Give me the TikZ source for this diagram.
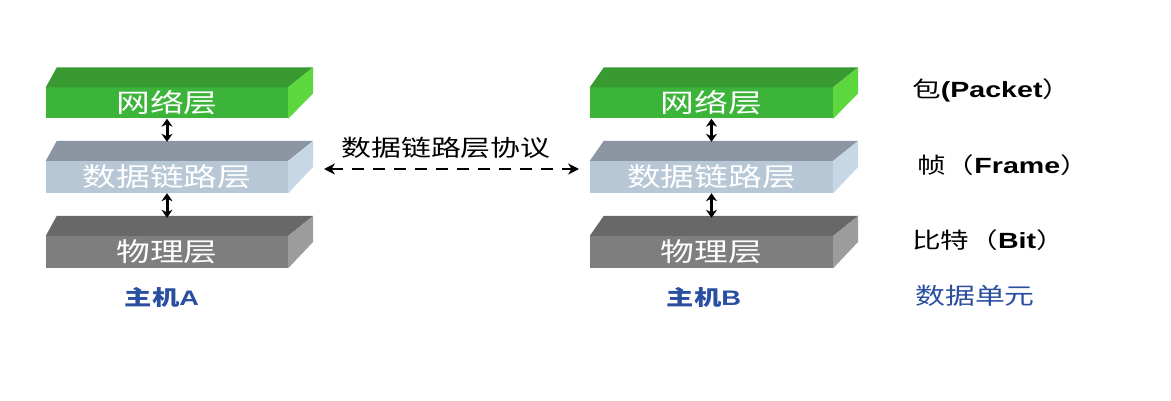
\documentclass[tikz,border=0pt]{standalone}
\usepackage{fontspec}
\usetikzlibrary{arrows.meta}
\newfontfamily\cjk[FakeStretch=1.3]{Noto Sans CJK SC}
\newfontfamily\lat[FakeStretch=1.3]{Liberation Sans}
\definecolor{netfront}{HTML}{3CB43A}
\definecolor{nettop}{HTML}{3A9A32}
\definecolor{netside}{HTML}{5CD83E}
\definecolor{dlfront}{HTML}{B8C7D6}
\definecolor{dltop}{HTML}{8C96A3}
\definecolor{dlside}{HTML}{C8D7E6}
\definecolor{phfront}{HTML}{7E7E7E}
\definecolor{phtop}{HTML}{686868}
\definecolor{phside}{HTML}{9C9C9C}
\definecolor{hostblue}{HTML}{2A4FA0}
\tikzset{
  layer/.style={minimum height=31pt, inner sep=0pt, text=white, font=\cjk\fontsize{26}{26}\selectfont},
  varrow/.style={line width=3pt, {Stealth[length=8pt,width=11pt]}-{Stealth[length=8pt,width=11pt]}},
  darrow/.style={line width=2.6pt, dash pattern=on 12pt off 9pt, {Stealth[length=11pt,width=11pt]}-{Stealth[length=11pt,width=11pt]}},
  lbl/.style={anchor=west, inner sep=0pt, font=\cjk\fontsize{22}{22}\selectfont},
  host/.style={inner sep=0pt, text=hostblue, font=\cjk\bfseries\fontsize{21}{21}\selectfont}
}
% #1 node name, #2 front color, #3 top color, #4 side color, #5 left offset
\newcommand{\cubefaces}[5]{%
  \fill[#3] (#1.north west) -- ++(#5,-20) -- ([shift={(25,-20)}]#1.north east) -- (#1.north east) -- cycle;
  \fill[#4] (#1.north east) -- ++(25,-20) -- ++(0,26) -- (#1.south east) -- cycle;
}
\begin{document}
\begin{tikzpicture}[x=1pt,y=-1pt]
\useasboundingbox[fill=white] (0,0) rectangle (1171,401);
% host A
\node[layer, fill=netfront, minimum width=242pt] (na) at (167,103) {网络层};
\node[layer, fill=dlfront, minimum width=242pt, minimum height=32pt] (da) at (167,177) {数据链路层};
\node[layer, fill=phfront, minimum width=242pt, minimum height=32pt] (pa) at (167,252) {物理层};
\cubefaces{na}{netfront}{nettop}{netside}{11}
\cubefaces{da}{dlfront}{dltop}{dlside}{11}
\cubefaces{pa}{phfront}{phtop}{phside}{11}
% host B
\node[layer, fill=netfront, minimum width=243pt] (nb) at (711.5,103) {网络层};
\node[layer, fill=dlfront, minimum width=243pt, minimum height=32pt] (db) at (711.5,177) {数据链路层};
\node[layer, fill=phfront, minimum width=243pt, minimum height=32pt] (pb) at (711.5,252) {物理层};
\cubefaces{nb}{netfront}{nettop}{netside}{14}
\cubefaces{db}{dlfront}{dltop}{dlside}{14}
\cubefaces{pb}{phfront}{phtop}{phside}{14}
% vertical arrows
\coordinate (dat) at ([yshift=19pt]da.north);
\coordinate (pat) at ([yshift=18pt]pa.north);
\coordinate (dbt) at ([yshift=19pt]db.north);
\coordinate (pbt) at ([yshift=18pt]pb.north);
\draw[varrow] (na.south) -- (dat);
\draw[varrow] (da.south) -- (pat);
\draw[varrow] (nb.south) -- (dbt);
\draw[varrow] (db.south) -- (pbt);
% protocol arrow
\coordinate (pl) at (324,169);
\coordinate (pr) at (579,169);
\draw[darrow] (pl) -- (pr);
\node[inner sep=0pt, font=\cjk\fontsize{23}{23}\selectfont] (proto) at (446,148) {数据链路层协议};
% host labels
\node[host] (ha) at (162,297) {主机{\lat\bfseries A}};
\node[host] (hb) at (704,297) {主机{\lat\bfseries B}};
% data unit labels
\node[lbl] (pk) at (912,90) {包{\lat\bfseries (Packet}）};
\node[lbl] (fr) at (917,165) {帧（{\lat\bfseries Frame}）};
\node[lbl] (bt) at (912,240) {比特（{\lat\bfseries Bit}）};
\node[lbl, text=hostblue, font=\cjk\fontsize{23}{23}\selectfont] (du) at (915,296) {数据单元};
\end{tikzpicture}
\end{document}
